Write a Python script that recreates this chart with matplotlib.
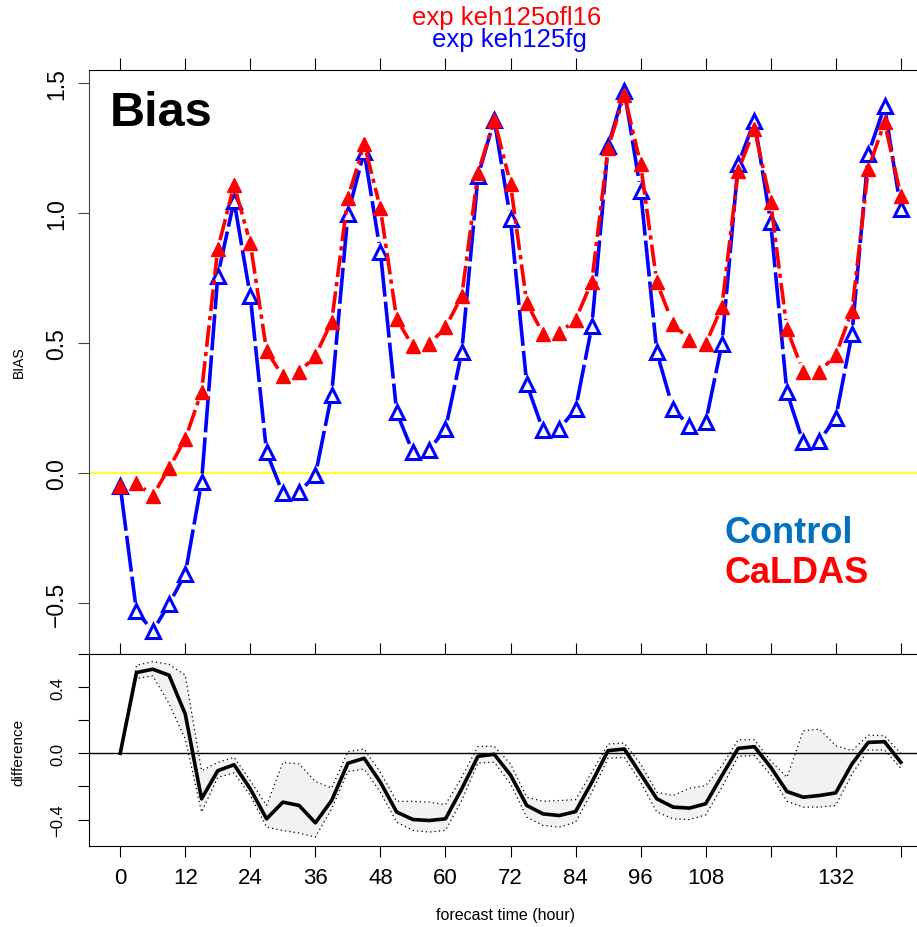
import numpy as np
import matplotlib
matplotlib.use('Agg')
import matplotlib.pyplot as plt
from matplotlib.collections import LineCollection

plt.rcParams['font.family'] = ['Liberation Sans', 'DejaVu Sans']

# forecast lead times, every 3 h out to 6 days
hours = list(range(0, 145, 3))

bias_control = [-0.050, -0.532, -0.607, -0.504, -0.388, -0.036, 0.759, 1.047, 0.680, 0.080,
                -0.078, -0.074, -0.008, 0.301, 0.996, 1.236, 0.851, 0.233, 0.080, 0.090,
                0.169, 0.464, 1.141, 1.359, 0.977, 0.342, 0.165, 0.169, 0.246, 0.564,
                1.257, 1.470, 1.086, 0.464, 0.246, 0.182, 0.195, 0.496, 1.188, 1.355,
                0.964, 0.310, 0.118, 0.124, 0.212, 0.535, 1.227, 1.410, 1.015]
bias_caldas = [-0.049, -0.038, -0.087, 0.019, 0.131, 0.313, 0.862, 1.108, 0.883, 0.470,
               0.372, 0.387, 0.451, 0.582, 1.058, 1.265, 1.018, 0.592, 0.487, 0.496,
               0.560, 0.680, 1.154, 1.359, 1.112, 0.654, 0.535, 0.538, 0.590, 0.736,
               1.249, 1.454, 1.188, 0.733, 0.573, 0.513, 0.496, 0.640, 1.163, 1.323,
               1.041, 0.554, 0.390, 0.390, 0.454, 0.624, 1.169, 1.349, 1.067]

# difference panel: mean and confidence band
diff_mean = [0.0, 0.488, 0.508, 0.472, 0.237, -0.275, -0.105, -0.069, -0.215, -0.396,
             -0.295, -0.315, -0.420, -0.285, -0.060, -0.030, -0.175, -0.355, -0.400, -0.406,
             -0.396, -0.215, -0.018, -0.006, -0.131, -0.315, -0.366, -0.376, -0.352, -0.175,
             0.016, 0.026, -0.125, -0.275, -0.325, -0.331, -0.305, -0.135, 0.030, 0.040,
             -0.084, -0.231, -0.265, -0.255, -0.239, -0.064, 0.066, 0.070, -0.054]
diff_upper = [0.0, 0.532, 0.554, 0.538, 0.472, -0.105, -0.055, -0.024, -0.165, -0.315,
              -0.055, -0.064, -0.170, -0.210, 0.010, 0.026, -0.115, -0.290, -0.290, -0.295,
              -0.310, -0.145, 0.042, 0.042, -0.064, -0.265, -0.290, -0.285, -0.280, -0.115,
              0.056, 0.062, -0.064, -0.235, -0.255, -0.211, -0.195, -0.075, 0.082, 0.082,
              -0.045, -0.145, 0.136, 0.146, 0.046, 0.016, 0.110, 0.106, 0.000]
diff_lower = [0.0, 0.452, 0.468, 0.300, 0.086, -0.355, -0.145, -0.119, -0.255, -0.446,
              -0.466, -0.482, -0.506, -0.335, -0.110, -0.095, -0.235, -0.416, -0.466, -0.476,
              -0.466, -0.285, -0.058, -0.054, -0.185, -0.386, -0.436, -0.446, -0.416, -0.235,
              -0.030, -0.024, -0.175, -0.355, -0.396, -0.400, -0.372, -0.205, -0.018, -0.014,
              -0.131, -0.290, -0.325, -0.325, -0.315, -0.125, 0.020, 0.020, -0.090]

xticks = list(range(0, 145, 12))
xticklabels = ['0', '12', '24', '36', '48', '60', '72', '84', '96', '108', '', '132', '']
bias_ticks = [-0.5, 0.0, 0.5, 1.0, 1.5]
bias_ticklabels = ['\u22120.5', '0.0', '0.5', '1.0', '1.5']
diff_ticks = [-0.4, -0.2, 0.0, 0.2, 0.4, 0.6]
diff_ticklabels = ['\u22120.4', '', '0.0', '', '0.4', '']

W, H = 917, 928
fig = plt.figure(figsize=(W / 100, H / 100), dpi=100)
ax1 = fig.add_axes([89 / W, 1 - 655 / H, (932 - 89) / W, (655 - 71) / H])
ax2 = fig.add_axes([89 / W, 1 - 847 / H, (932 - 89) / W, (847 - 655) / H])

XLIM = (-5.76, 149.76)
ax1.set_xlim(XLIM)
ax1.set_ylim(-0.696, 1.55)
ax2.set_xlim(XLIM)
ax2.set_ylim(-0.56, 0.598)


def gapped(ax, x, y, gap=9):
    # R type="b" style: every segment is cut short around the points
    pts = ax.transData.transform(np.column_stack([x, y]))
    inv = ax.transData.inverted()
    segs = []
    for p, q in zip(pts[:-1], pts[1:]):
        d = q - p
        L = np.hypot(d[0], d[1])
        if L <= 2 * gap:
            continue
        u = d / L
        segs.append(inv.transform(np.array([p + u * gap, q - u * gap])))
    return segs


ax1.axhline(0, color='#ffff33', lw=1.6, zorder=1)

blue_segs = LineCollection(gapped(ax1, hours, bias_control), colors='#0000ff',
                           linewidths=2.6, linestyles=[(0, (10, 1.4))], zorder=2)
ax1.add_collection(blue_segs)
ax1.plot(hours, bias_control, ls='none', marker='^', ms=10.5, mfc='none',
         mec='#0000ff', mew=2.2, zorder=3)

red_segs = LineCollection(gapped(ax1, hours, bias_caldas), colors='#ff0000',
                          linewidths=2.6, linestyles=[(0, (6, 1.4, 1.2, 1.4))], zorder=4)
ax1.add_collection(red_segs)
ax1.plot(hours, bias_caldas, ls='none', marker='^', ms=9.5, mfc='#ff0000',
         mec='#ff0000', mew=1, zorder=5)

ax1.set_yticks(bias_ticks)
ax1.set_yticklabels(bias_ticklabels, fontsize=16.5, rotation=90, va='center')
ax1.set_xticks(xticks)
ax1.tick_params(axis='x', top=True, bottom=False, labelbottom=False, labeltop=False,
                direction='out', length=8.5, width=0.8)
ax1.tick_params(axis='y', direction='out', length=8, width=0.8, pad=7, color='#444444')
ax1.spines['left'].set_color('#444444')

fig.text(19 / W, 1 - 362 / H, 'BIAS', fontsize=10, rotation=90, ha='center', va='center')
fig.text(110 / W, 1 - 114 / H, 'Bias', fontsize=35, fontweight='bold', va='center')
fig.text(725 / W, 1 - 543 / H, 'Control', fontsize=26, fontweight='bold',
         color='#0070c0', va='baseline')
fig.text(725 / W, 1 - 583 / H, 'CaLDAS', fontsize=26, fontweight='bold',
         color='#ff0000', va='baseline')

fig.text(507 / W, 1 - 18 / H, 'exp keh125ofl16', color='#ff0000', fontsize=18.5,
         ha='center', va='center')
fig.text(509 / W, 1 - 40 / H, 'exp keh125fg', color='#0000ff', fontsize=18.5,
         ha='center', va='center')

# difference panel
ax2.fill_between(hours, diff_lower, diff_upper, color='#f2f2f2', lw=0, zorder=1)
ax2.plot(hours, diff_upper, color='black', lw=0.9, ls=(0, (1, 2.5)), zorder=2)
ax2.plot(hours, diff_lower, color='black', lw=0.9, ls=(0, (1, 2.5)), zorder=2)
ax2.axhline(0, color='black', lw=1, zorder=2)
ax2.plot(hours, diff_mean, color='black', lw=2.6, zorder=3)

ax2.set_yticks(diff_ticks)
ax2.set_yticklabels(diff_ticklabels, fontsize=12, rotation=90, va='center')
ax2.set_xticks(xticks)
ax2.set_xticklabels(xticklabels, fontsize=16)
ax2.tick_params(axis='x', top=True, bottom=True, labeltop=False, direction='out',
                length=8, width=0.8, pad=7)
ax2.tick_params(axis='y', direction='out', length=8, width=0.8, pad=9)

fig.text(18 / W, 1 - 752 / H, 'difference', fontsize=11, rotation=90, ha='center', va='center')
fig.text(506 / W, 1 - 916 / H, 'forecast time (hour)', fontsize=11.5, ha='center', va='center')

fig.savefig('out.png', dpi=100)
